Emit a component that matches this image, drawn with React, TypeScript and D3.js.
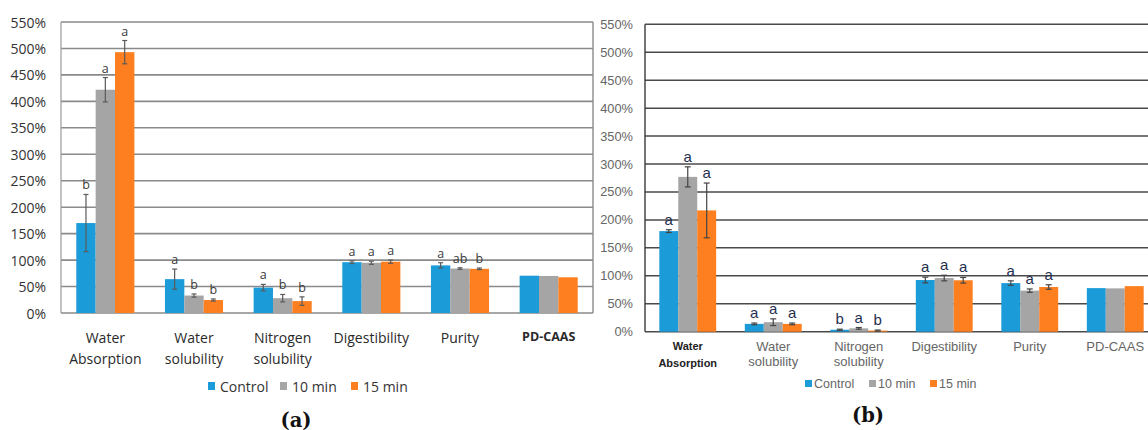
import React from "react";
import * as d3 from "d3";

// Categories and series shared by both panels
const categories = [
  "Water Absorption",
  "Water solubility",
  "Nitrogen solubility",
  "Digestibility",
  "Purity",
  "PD-CAAS",
];
const categoryLines = [
  ["Water", "Absorption"],
  ["Water", "solubility"],
  ["Nitrogen", "solubility"],
  ["Digestibility"],
  ["Purity"],
  ["PD-CAAS"],
];
const seriesNames = ["Control", "10 min", "15 min"];
const seriesColors = ["#1b9bd7", "#a5a5a5", "#fd7f1f"];
const yTicks = [0, 50, 100, 150, 200, 250, 300, 350, 400, 450, 500, 550];

// Panel (a) values (%)
const aControl = [170, 64, 48, 96, 90, 70.5];
const a10min = [422, 33, 28, 95, 84, 70];
const a15min = [493, 24.5, 22.5, 97, 83.5, 67.5];
const aControlErr = [54, 19, 6, 2.5, 5, null];
const a10minErr = [23, 3, 7, 3, 1.5, null];
const a15minErr = [22, 2, 8, 3, 1.5, null];
const aControlSig = ["b", "a", "a", "a", "a", ""];
const a10minSig = ["a", "b", "b", "a", "ab", ""];
const a15minSig = ["a", "b", "b", "a", "b", ""];

// Panel (b) values (%)
const bControl = [180, 14, 3.5, 92.5, 87, 78];
const b10min = [277, 17, 6, 96, 73.5, 77.5];
const b15min = [217, 14, 2, 92, 80, 81.5];
const bControlErr = [2.5, 1.5, 1, 5, 4, null];
const b10minErr = [18, 6, 1.5, 5, 3, null];
const b15minErr = [49, 1.5, 1, 5, 4, null];
const bControlSig = ["a", "a", "b", "a", "a", ""];
const b10minSig = ["a", "a", "a", "a", "a", ""];
const b15minSig = ["a", "a", "b", "a", "a", ""];

type Panel = {
  values: number[][];
  errors: (number | null)[][];
  sig: string[][];
};

const panelA: Panel = {
  values: [aControl, a10min, a15min],
  errors: [aControlErr, a10minErr, a15minErr],
  sig: [aControlSig, a10minSig, a15minSig],
};
const panelB: Panel = {
  values: [bControl, b10min, b15min],
  errors: [bControlErr, b10minErr, b15minErr],
  sig: [bControlSig, b10minSig, b15minSig],
};

function Bars({
  panel,
  x,
  y,
  errColor,
  capHalf,
  sigFont,
  sigSize,
  sigColor,
  sigGap,
}: {
  panel: Panel;
  x: d3.ScaleBand<string>;
  y: d3.ScaleLinear<number, number>;
  errColor: string;
  capHalf: number;
  sigFont: string;
  sigSize: number;
  sigColor: string;
  sigGap: number;
}) {
  const inner = d3
    .scaleBand<string>()
    .domain(seriesNames)
    .range([0, x.bandwidth()]);
  return (
    <g>
      {categories.map((cat, ci) => (
        <g key={cat} transform={`translate(${x(cat)},0)`}>
          {seriesNames.map((s, si) => {
            const v = panel.values[si][ci];
            const e = panel.errors[si][ci];
            const bx = inner(s)!;
            const cx = bx + inner.bandwidth() / 2;
            const top = e != null ? y(v + e) : y(v);
            return (
              <g key={s}>
                <rect
                  x={bx}
                  y={y(v)}
                  width={inner.bandwidth()}
                  height={y(0) - y(v)}
                  fill={seriesColors[si]}
                />
                {e != null && (
                  <g stroke={errColor} strokeWidth={1.2}>
                    <line x1={cx} x2={cx} y1={y(v + e)} y2={y(v - e)} />
                    <line x1={cx - capHalf} x2={cx + capHalf} y1={y(v + e)} y2={y(v + e)} />
                    <line x1={cx - capHalf} x2={cx + capHalf} y1={y(v - e)} y2={y(v - e)} />
                  </g>
                )}
                {panel.sig[si][ci] && (
                  <text
                    x={cx}
                    y={top - sigGap}
                    textAnchor="middle"
                    fontFamily={sigFont}
                    fontSize={sigSize}
                    fill={sigColor}
                  >
                    {panel.sig[si][ci]}
                  </text>
                )}
              </g>
            );
          })}
        </g>
      ))}
    </g>
  );
}

export default function App() {
  // Panel (a) scales
  const xA = d3
    .scaleBand<string>()
    .domain(categories)
    .range([61, 593])
    .paddingInner(0.345)
    .paddingOuter(0.1725);
  const yA = d3.scaleLinear().domain([0, 550]).range([313, 22]);

  // Panel (b) scales
  const xB = d3
    .scaleBand<string>()
    .domain(categories)
    .range([645, 645 + 6 * 85.5])
    .paddingInner(0.335)
    .paddingOuter(0.1675);
  const yB = d3.scaleLinear().domain([0, 550]).range([331.7, 24.3]);

  const fontA = "'Open Sans', sans-serif";
  const fontB = "'Liberation Sans', Arial, sans-serif";

  return (
    <svg
      width={1148}
      height={430}
      style={{ position: "absolute", left: 0, top: 0, background: "#fff" }}
    >
      {/* ---------- Panel (a) ---------- */}
      <g>
        {yTicks.map((t) => (
          <g key={t}>
            <line
              x1={61}
              x2={593}
              y1={yA(t)}
              y2={yA(t)}
              stroke="#8a8a8a"
              strokeWidth={1.6}
            />
            <text
              x={46}
              y={yA(t)}
              textAnchor="end"
              dominantBaseline="central"
              fontFamily={fontA}
              fontSize={14}
              fill="#333"
            >
              {t}%
            </text>
          </g>
        ))}
        <line x1={61} x2={61} y1={yA(550)} y2={yA(0)} stroke="#9a9a9a" strokeWidth={1.2} />
        <line x1={593} x2={593} y1={yA(550)} y2={yA(0)} stroke="#8a8a8a" strokeWidth={1.4} />
        <Bars
          panel={panelA}
          x={xA}
          y={yA}
          errColor="#5a5a5a"
          capHalf={2.5}
          sigFont={fontA}
          sigSize={12.5}
          sigColor="#3a3a3a"
          sigGap={5}
        />
        {categoryLines.map((lines, ci) =>
          lines.map((ln, li) => {
            const bold = categories[ci] === "PD-CAAS";
            return (
              <text
                key={`${ci}-${li}`}
                x={xA(categories[ci])! + xA.bandwidth() / 2}
                y={(bold ? 336 : 337) + li * 21}
                textAnchor="middle"
                dominantBaseline="central"
                fontFamily={fontA}
                fontSize={bold ? 12.5 : 14}
                fontWeight={bold ? 700 : 400}
                fill="#2a2a2a"
              >
                {ln}
              </text>
            );
          })
        )}
        {/* legend */}
        {[208, 280, 351].map((lx, i) => (
          <g key={seriesNames[i]}>
            <rect x={lx} y={382} width={7} height={8} fill={seriesColors[i]} />
            <text
              x={lx + 12}
              y={386}
              dominantBaseline="central"
              fontFamily={fontA}
              fontSize={14}
              fill="#333"
            >
              {seriesNames[i]}
            </text>
          </g>
        ))}
        <text
          x={296}
          y={420}
          textAnchor="middle"
          dominantBaseline="central"
          fontFamily="'DejaVu Serif', serif"
          fontWeight={700}
          fontSize={19.5}
          fill="#111"
        >
          (a)
        </text>
      </g>

      {/* ---------- Panel (b) ---------- */}
      <g>
        {yTicks.map((t) => (
          <g key={t}>
            <line
              x1={645}
              x2={1148}
              y1={yB(t)}
              y2={yB(t)}
              stroke="#4a4a4a"
              strokeWidth={1.5}
            />
            <text
              x={633}
              y={yB(t)}
              textAnchor="end"
              dominantBaseline="central"
              fontFamily={fontB}
              fontSize={12.8}
              fill="#666"
            >
              {t}%
            </text>
          </g>
        ))}
        <line x1={645} x2={645} y1={yB(550)} y2={yB(0)} stroke="#3a3a3a" strokeWidth={1.4} />
        <Bars
          panel={panelB}
          x={xB}
          y={yB}
          errColor="#444"
          capHalf={3}
          sigFont={fontB}
          sigSize={15}
          sigColor="#1f2f4f"
          sigGap={5}
        />
        {categoryLines.map((lines, ci) =>
          lines.map((ln, li) => {
            const bold = ci === 0;
            return (
              <text
                key={`${ci}-${li}`}
                x={xB(categories[ci])! + xB.bandwidth() / 2}
                y={346 + li * (bold ? 17 : 15)}
                textAnchor="middle"
                dominantBaseline="central"
                fontFamily={fontB}
                fontSize={bold ? 11 : 13}
                fontWeight={bold ? 700 : 400}
                fill={bold ? "#222" : "#666"}
              >
                {ln}
              </text>
            );
          })
        )}
        {/* legend */}
        {[805, 869, 930].map((lx, i) => (
          <g key={seriesNames[i]}>
            <rect x={lx} y={380} width={7} height={7} fill={seriesColors[i]} />
            <text
              x={lx + 9}
              y={384}
              dominantBaseline="central"
              fontFamily={fontB}
              fontSize={12.5}
              fill="#666"
            >
              {seriesNames[i]}
            </text>
          </g>
        ))}
        <text
          x={868}
          y={415}
          textAnchor="middle"
          dominantBaseline="central"
          fontFamily="'DejaVu Serif', serif"
          fontWeight={700}
          fontSize={19.5}
          fill="#111"
        >
          (b)
        </text>
      </g>
    </svg>
  );
}
